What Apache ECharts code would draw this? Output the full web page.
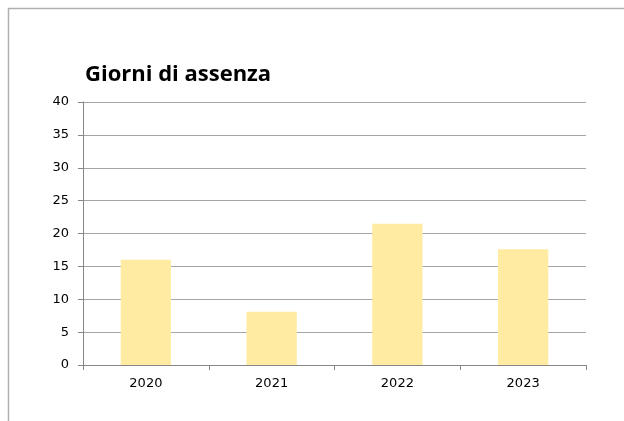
<!DOCTYPE html>
<html>
<head>
<meta charset="utf-8">
<script src="https://cdn.jsdelivr.net/npm/echarts@6/dist/echarts.min.js"></script>
<style>
  html, body { margin: 0; padding: 0; background: #fff; }
  #chart { width: 624px; height: 421px; }
</style>
</head>
<body>
<div id="chart"></div>
<script>
// data
var years = ['2020', '2021', '2022', '2023']
var giorni = [16, 8.1, 21.5, 17.6]

var chart = echarts.init(document.getElementById('chart'))

var option = {
  animation: false,
  // outer frame (only top and left visible in the picture)
  graphic: [
    { type: 'line', shape: { x1: 8, y1: 8.5, x2: 624, y2: 8.5 }, style: { stroke: '#b0b0b0', lineWidth: 1.5 } },
    { type: 'line', shape: { x1: 8.5, y1: 8, x2: 8.5, y2: 421 }, style: { stroke: '#b0b0b0', lineWidth: 1.5 } }
  ],
  title: {
    text: 'Giorni di assenza',
    left: 80,
    top: 59,
    textStyle: { fontFamily: 'Open Sans', fontWeight: 'bold', fontSize: 22, color: '#000' }
  },
  grid: { left: 83, top: 102, right: 38, bottom: 56 },
  xAxis: {
    type: 'category',
    data: years,
    axisLine: { lineStyle: { color: '#868686' } },
    axisTick: { show: true, length: 5, lineStyle: { color: '#868686' } },
    axisLabel: { fontFamily: 'DejaVu Sans', fontSize: 13, color: '#000', margin: 12 }
  },
  yAxis: {
    type: 'value',
    min: 0,
    max: 40,
    interval: 5,
    axisLine: { show: true, lineStyle: { color: '#868686' } },
    axisTick: { show: true, length: 5, lineStyle: { color: '#868686' } },
    axisLabel: { fontFamily: 'DejaVu Sans', fontSize: 13, color: '#000', margin: 14 },
    splitLine: { lineStyle: { color: '#a6a6a6', width: 1 } }
  },
  series: [{
    type: 'bar',
    data: giorni,
    barWidth: '40%',
    itemStyle: { color: '#ffeba1' }
  }]
}

chart.setOption(option)
window.addEventListener('resize', function () { chart.resize() })
</script>
</body>
</html>
